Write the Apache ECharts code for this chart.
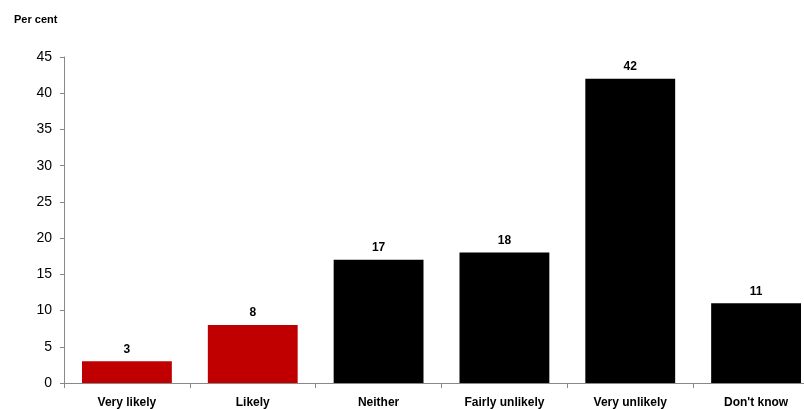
<!DOCTYPE html>
<html><head><meta charset="utf-8">
<script src="https://cdn.jsdelivr.net/npm/echarts@6/dist/echarts.min.js"></script>
<style>html,body{margin:0;padding:0;background:#fff;overflow:hidden;width:804px;height:409px}#c{width:820px;height:409px}</style>
</head><body><div id="c"></div>
<script>
const categories = ["Very likely", "Likely", "Neither", "Fairly unlikely", "Very unlikely", "Don't know"];
const values = [3, 8, 17, 18, 42, 11];
const barColors = ["#C00000", "#C00000", "#000000", "#000000", "#000000", "#000000"];
const yTicks = {min: 0, max: 45, interval: 5};

const chart = echarts.init(document.getElementById('c'), null, {renderer: 'canvas'});
chart.setOption({
  animation: false,
  backgroundColor: '#fff',
  title: {text: 'Per cent', left: 9, top: 9, textStyle: {fontFamily: 'Liberation Sans, Arial', fontSize: 11, fontWeight: 'bold', color: '#000'}},
  grid: {left: 64, top: 57, bottom: 26, right: 1, containLabel: false},
  xAxis: {
    type: 'category', data: categories,
    axisLine: {lineStyle: {color: '#888', width: 1}},
    axisTick: {show: true, alignWithLabel: false, length: 5, lineStyle: {color: '#888'}},
    axisLabel: {margin: 14, fontFamily: 'Liberation Sans, Arial', fontSize: 12, fontWeight: 'bold', color: '#000', interval: 0}
  },
  yAxis: {
    type: 'value', min: yTicks.min, max: yTicks.max, interval: yTicks.interval,
    axisLine: {show: true, lineStyle: {color: '#888', width: 1}},
    axisTick: {show: true, length: 4, lineStyle: {color: '#888'}},
    splitLine: {show: false},
    axisLabel: {margin: 12, fontFamily: 'Liberation Sans, Arial', fontSize: 14, color: '#000'}
  },
  series: [{
    type: 'bar',
    data: values.map((v, i) => ({value: v, itemStyle: {color: barColors[i]}})),
    barCategoryGap: '28.6%',
    label: {show: true, position: 'top', distance: 6, fontFamily: 'Liberation Sans, Arial', fontSize: 12, fontWeight: 'bold', color: '#000'}
  }]
});
</script></body></html>
